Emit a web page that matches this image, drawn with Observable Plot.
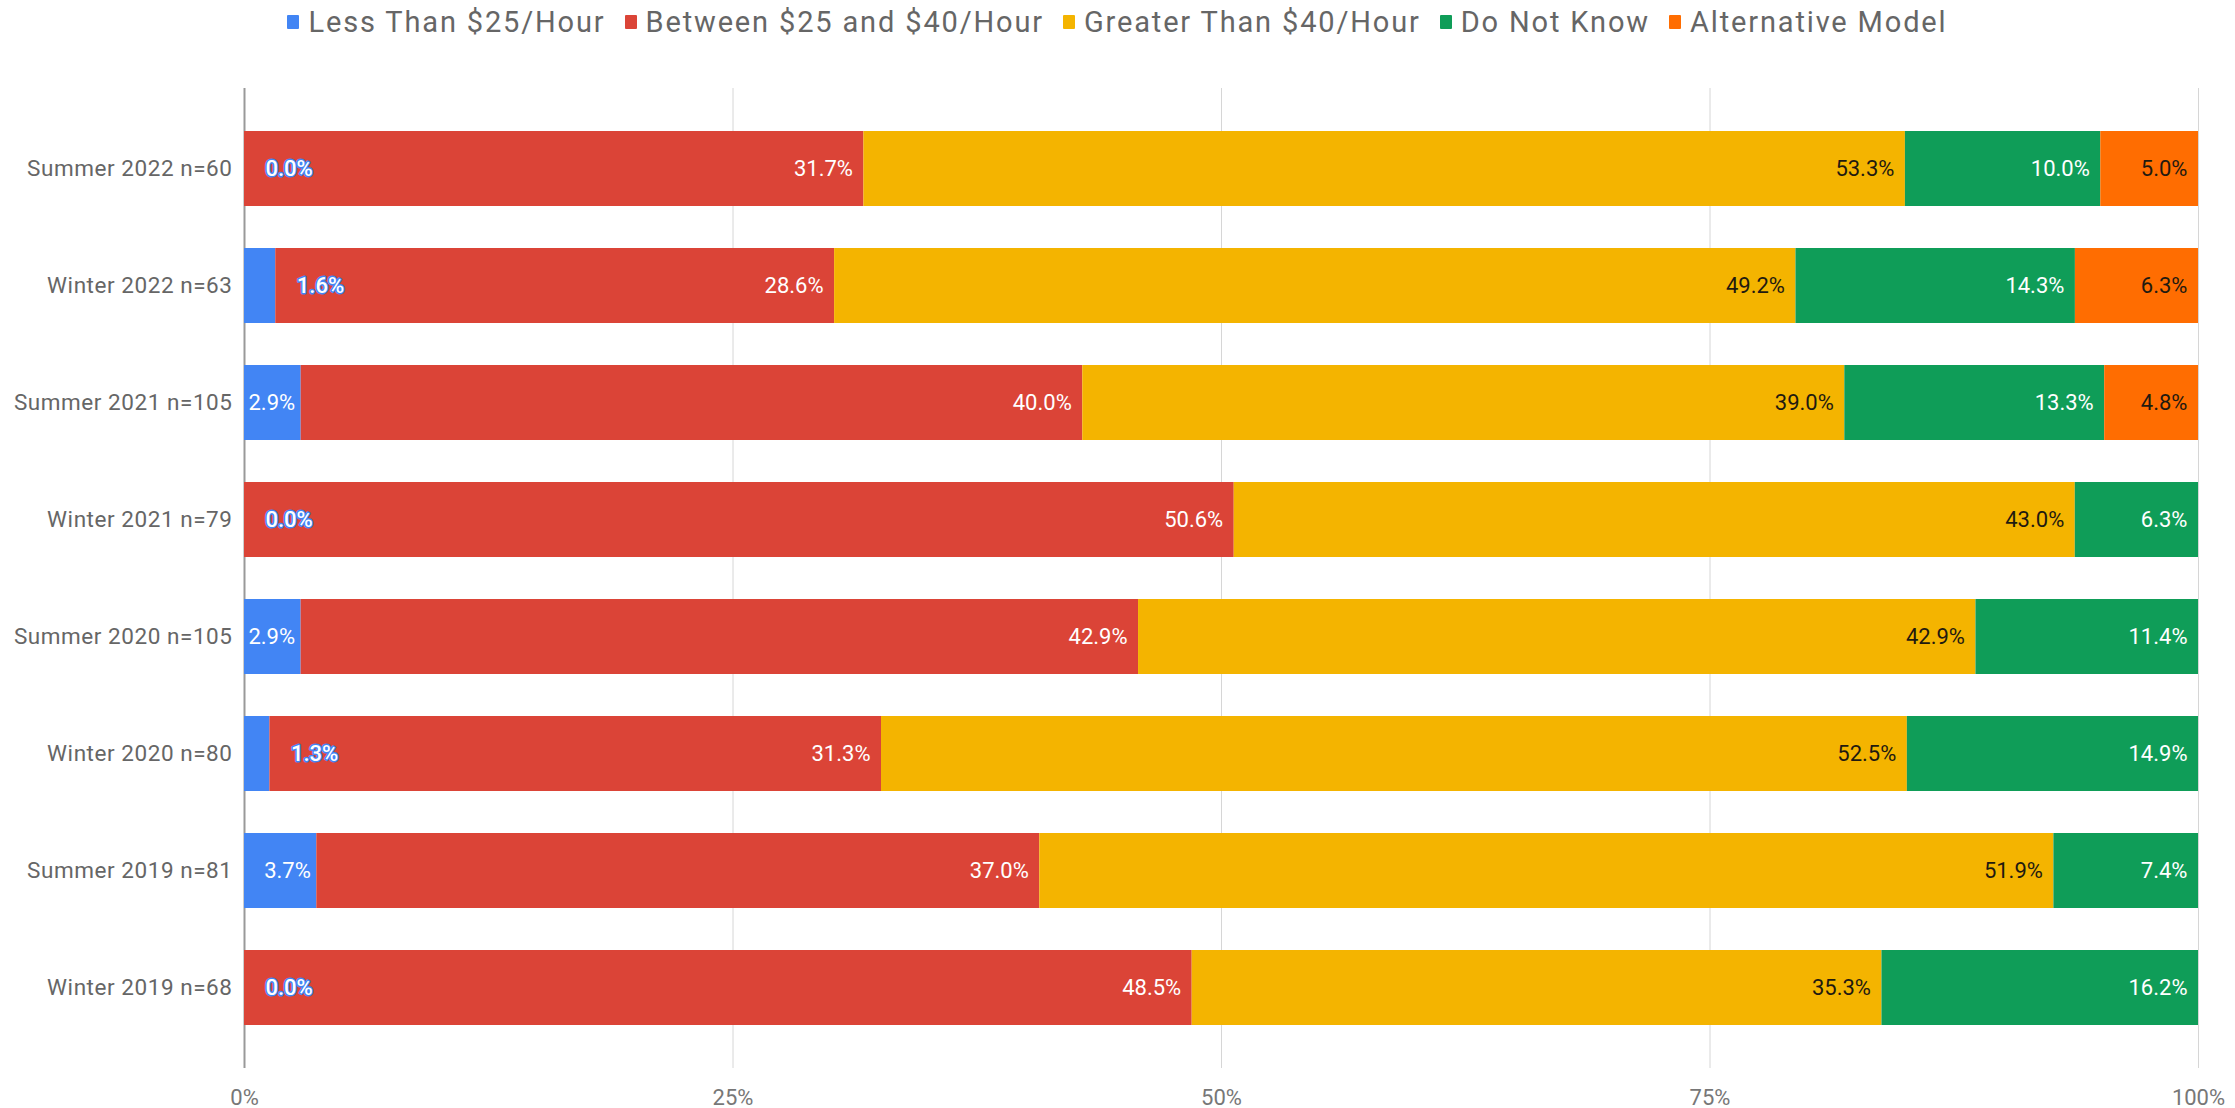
<!DOCTYPE html>
<html>
<head>
<meta charset="utf-8">
<script src="https://cdn.jsdelivr.net/npm/d3@7"></script>
<script src="https://cdn.jsdelivr.net/npm/@observablehq/plot@0.6"></script>
<style>
  html, body { margin: 0; padding: 0; background: #fff; }
  body { width: 2235px; height: 1108px; overflow: hidden; font-family: Roboto, sans-serif; }
  #legend { height: 44px; display: flex; justify-content: center; align-items: center; gap: 19px; font-size: 29px; letter-spacing: 1.85px; color: #666; }
  #legend .item { display: flex; align-items: center; }
  #legend .sw { width: 12px; height: 14px; margin-right: 9px; border-radius: 1px; }
  svg { display: block; }
  .ylab text { letter-spacing: 0.55px; }
</style>
</head>
<body>
<div id="legend"></div>
<div id="chart"></div>
<script>
const categories = ["Summer 2022 n=60", "Winter 2022 n=63", "Summer 2021 n=105", "Winter 2021 n=79", "Summer 2020 n=105", "Winter 2020 n=80", "Summer 2019 n=81", "Winter 2019 n=68"];
const series = ["Less Than $25/Hour", "Between $25 and $40/Hour", "Greater Than $40/Hour", "Do Not Know", "Alternative Model"];
const lessThan25 = [0.0, 1.6, 2.9, 0.0, 2.9, 1.3, 3.7, 0.0];
const between25and40 = [31.7, 28.6, 40.0, 50.6, 42.9, 31.3, 37.0, 48.5];
const greaterThan40 = [53.3, 49.2, 39.0, 43.0, 42.9, 52.5, 51.9, 35.3];
const doNotKnow = [10.0, 14.3, 13.3, 6.3, 11.4, 14.9, 7.4, 16.2];
const alternativeModel = [5.0, 6.3, 4.8, null, null, null, null, null];
const colors = ["#4285F4", "#DB4437", "#F4B400", "#0F9D58", "#FF6D01"];
const tickValues = [0, 0.25, 0.5, 0.75, 1];
const tickLabels = ["0%", "25%", "50%", "75%", "100%"];

const seriesValues = [lessThan25, between25and40, greaterThan40, doNotKnow, alternativeModel];

// build rows
const rows = [];
categories.forEach((cat, i) => {
  const vals = seriesValues.map(s => s[i]);
  const total = d3.sum(vals.filter(v => v != null));
  let cum = 0;
  vals.forEach((v, j) => {
    if (v == null) return;
    rows.push({cat, series: series[j], si: j, value: v, x1: cum / total, x2: (cum + v) / total, frac: v / total, label: v.toFixed(1) + "%"});
    cum += v;
  });
});

// legend
const legend = document.getElementById("legend");
series.forEach((s, j) => {
  const item = document.createElement("div");
  item.className = "item";
  const sw = document.createElement("span");
  sw.className = "sw";
  sw.style.background = colors[j];
  const t = document.createElement("span");
  t.textContent = s;
  item.appendChild(sw);
  item.appendChild(t);
  legend.appendChild(item);
});

const W = 2235, H = 1064;
const innerW = W - 244 - 37;
const fits = d => d.si === 0 && d.frac * innerW > 52;

const chart = Plot.plot({
  width: W,
  height: H,
  marginLeft: 244,
  marginRight: 37,
  marginTop: 44,
  marginBottom: 40,
  style: {fontFamily: "Roboto, sans-serif", background: "#fff", overflow: "visible"},
  x: {domain: [0, 1], axis: null},
  y: {domain: categories, padding: 0.356, axis: null},
  color: {domain: series, range: colors},
  marks: [
    Plot.ruleX(tickValues.slice(1), {stroke: "#d6d6d6", strokeWidth: 1}),
    Plot.ruleX([0], {stroke: "#999", strokeWidth: 2}),
    Plot.barX(rows, Plot.stackX({x: "value", y: "cat", fill: "series", offset: "normalize", order: series})),
    Plot.axisY({tickSize: 0, tickPadding: 12, fontSize: 22.5, fill: "#666", label: null, className: "ylab"}),
    Plot.axisX(tickValues, {tickSize: 0, tickPadding: 21, fontSize: 22, fill: "#777", label: null, tickFormat: (d, i) => tickLabels[i]}),
    Plot.text(rows, {filter: d => d.si === 1 || d.si === 3, x: "x2", y: "cat", text: "label", textAnchor: "end", dx: -11, fill: "white", fontSize: 22}),
    Plot.text(rows, {filter: d => d.si === 2 || d.si === 4, x: "x2", y: "cat", text: "label", textAnchor: "end", dx: -11, fill: "#1f1a10", fontSize: 22}),
    Plot.text(rows, {filter: d => fits(d), x: "x2", y: "cat", text: "label", textAnchor: "end", dx: -6, fill: "white", fontSize: 22}),
    Plot.text(rows, {filter: d => d.si === 0 && !fits(d), x: "x2", y: "cat", text: "label", textAnchor: "start", dx: 21, fill: "white", stroke: "#4285F4", strokeWidth: 3, fontSize: 22, fontWeight: 500})
  ]
});
document.getElementById("chart").appendChild(chart);
</script>
</body>
</html>
